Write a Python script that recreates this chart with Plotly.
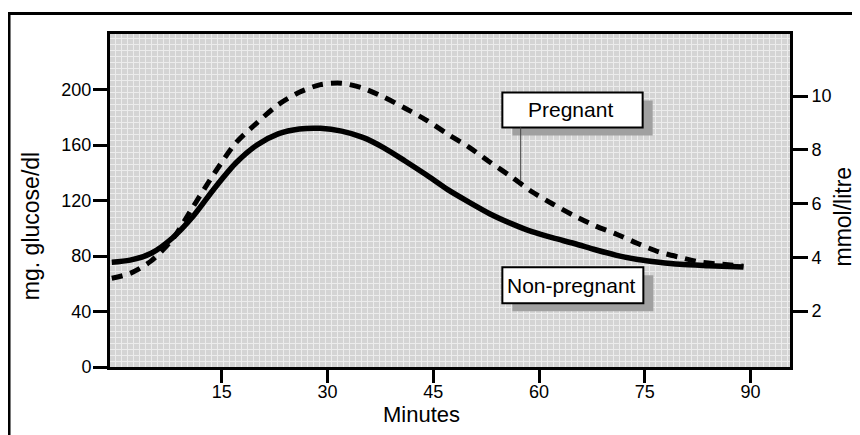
import plotly.graph_objects as go

# ---- data ----
minutes_nonpregnant = [-0.6, 2, 5, 8, 11, 14, 17, 20, 23, 26, 29, 32, 35, 38, 41, 44, 47, 50,
                       53, 56, 59, 62, 65, 68, 71, 74, 77, 80, 84, 89]
glucose_nonpregnant = [75.5, 77, 82, 93, 109, 129, 147, 160, 168, 171.5, 172, 170, 165.5, 158, 148.5,
                       138.5, 128, 119, 110.5, 103.5, 97.5, 93, 89, 84.5, 80.5, 77.5, 75.5, 74, 73, 72]

minutes_pregnant = [-0.6, 2, 5, 8, 11, 14, 17, 20, 23, 26, 29, 32, 35, 38, 41, 44, 47, 50,
                    53, 56, 59, 62, 65, 68, 71, 74, 77, 80, 83, 86, 89]
glucose_pregnant = [64, 67.5, 76.5, 92, 116, 140, 161.5, 176, 189, 198, 203.5, 204.5, 201, 194.5,
                    186.5, 178, 168, 158.7, 147.8, 137.4, 126.3, 117.3, 109, 101.7, 95.7, 89, 83,
                    79, 75.5, 74, 72.7]

x_ticks = [15, 30, 45, 60, 75, 90]
y_ticks_mg = [0, 40, 80, 120, 160, 200]
y_ticks_mmol = [2, 4, 6, 8, 10]

x_title = "Minutes"
y_title_left = "mg. glucose/dl"
y_title_right = "mmol/litre"
label_pregnant = "Pregnant"
label_nonpregnant = "Non-pregnant"

FONT = "Liberation Sans, Arial, Helvetica, sans-serif"

fig = go.Figure()
fig.add_trace(go.Scatter(x=minutes_pregnant, y=glucose_pregnant, mode="lines",
                         line=dict(color="black", width=5, dash="11px,8px", shape="spline", smoothing=0.8),
                         hoverinfo="skip", showlegend=False))
fig.add_trace(go.Scatter(x=minutes_nonpregnant, y=glucose_nonpregnant, mode="lines",
                         line=dict(color="black", width=5.5, shape="spline", smoothing=0.8),
                         hoverinfo="skip", showlegend=False))
# invisible trace to activate right axis
fig.add_trace(go.Scatter(x=[None], y=[None], yaxis="y2", showlegend=False, hoverinfo="skip"))

shapes = []
# outer frame
shapes.append(dict(type="rect", xref="paper", yref="paper", x0=-0.1485, x1=1.13, y0=1.0616, y1=-0.25,
                   line=dict(color="black", width=3), fillcolor="rgba(0,0,0,0)", layer="above"))

def label_box(x0, x1, y0, y1):
    # shadow (offset right/down)
    shapes.append(dict(type="rect", xref="x", yref="y", x0=x0 + 1.42, x1=x1 + 1.42, y0=y0 - 5.8, y1=y1 - 5.8,
                       line=dict(width=0), fillcolor="#a0a0a0", layer="above"))
    shapes.append(dict(type="rect", xref="x", yref="y", x0=x0, x1=x1, y0=y0, y1=y1,
                       line=dict(color="black", width=2), fillcolor="white", layer="above"))

label_box(54.8, 74.7, 172.7, 197.8)
label_box(54.8, 74.8, 46.0, 71.9)
# leader line from Pregnant box to dashed curve
shapes.append(dict(type="line", xref="x", yref="y", x0=57.4, x1=57.4, y0=172.7, y1=134.5,
                   line=dict(color="#444444", width=1), layer="above"))

annotations = [
    dict(text=label_pregnant, x=64.5, y=185.3, xref="x", yref="y", showarrow=False,
         font=dict(family=FONT, size=21, color="black"), xanchor="center", yanchor="middle"),
    dict(text=label_nonpregnant, x=64.6, y=59.0, xref="x", yref="y", showarrow=False,
         font=dict(family=FONT, size=21, color="black"), xanchor="center", yanchor="middle"),
    dict(text=y_title_left, x=-0.116, y=0.4234, xref="paper", yref="paper", showarrow=False, textangle=-90,
         font=dict(family=FONT, size=23, color="black"), xanchor="center", yanchor="middle"),
    dict(text=y_title_right, x=1.078, y=0.452, xref="paper", yref="paper", showarrow=False, textangle=-90,
         font=dict(family=FONT, size=23, color="black"), xanchor="center", yanchor="middle"),
    dict(text=x_title, x=0.4588, y=-0.143, xref="paper", yref="paper", showarrow=False,
         font=dict(family=FONT, size=22, color="black"), xanchor="center", yanchor="middle"),
]

axis_common = dict(showline=True, linecolor="black", linewidth=3, ticks="outside", tickcolor="black",
                   tickwidth=3, showgrid=False, zeroline=False,
                   tickfont=dict(family=FONT, size=18, color="black"))

fig.update_layout(
    # page body has an 8px margin, so the figure is 852x427 to fill the 860x435 window
    width=852, height=427, autosize=False,
    margin=dict(l=102, r=70, t=26, b=68),
    paper_bgcolor="white", plot_bgcolor="#d4d4d4",
    font=dict(family=FONT, color="black"),
    xaxis=dict(range=[-0.85, 95.6], tickmode="array", tickvals=x_ticks, ticklen=13, mirror=True,
               ticklabelstandoff=-7,
               minor=dict(dtick=0.85, tick0=0, showgrid=True, gridcolor="#ececec", gridwidth=1, ticks=""),
               **axis_common),
    yaxis=dict(range=[0, 240], tickmode="array", tickvals=y_ticks_mg, ticklen=14, mirror=True,
               ticklabelstandoff=-2,
               minor=dict(dtick=4.3, tick0=0, showgrid=True, gridcolor="#ececec", gridwidth=1, ticks=""),
               **axis_common),
    yaxis2=dict(range=[-0.08, 12.31], tickmode="array", tickvals=y_ticks_mmol, ticklen=15, overlaying="y",
                side="right", **axis_common),
    shapes=shapes, annotations=annotations, showlegend=False,
)

fig.write_html("out.html")
